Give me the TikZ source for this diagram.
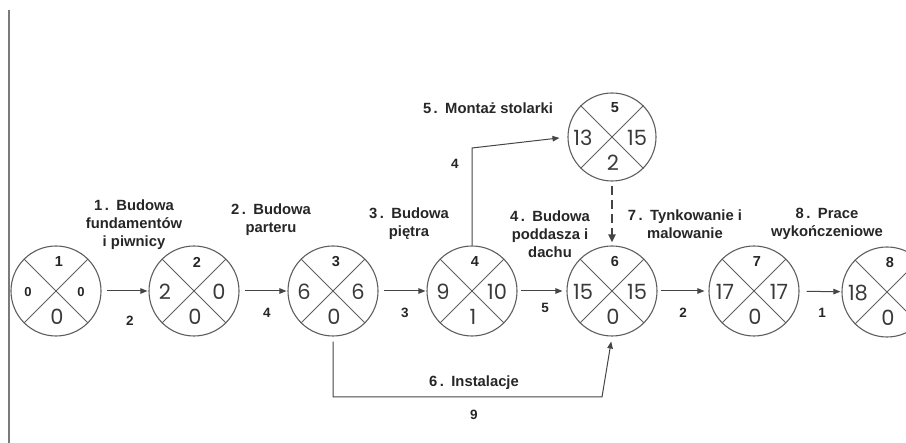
\documentclass[tikz,border=0pt]{standalone}
\usepackage{fontspec}
\setmainfont{Liberation Sans}
\newfontfamily\numfont{Poppins}
\usetikzlibrary{arrows.meta,calc}

\definecolor{ringgray}{HTML}{5E5E5E}
\definecolor{linegray}{HTML}{454545}
\definecolor{numgray}{HTML}{3A3A3A}
\definecolor{txt}{HTML}{262626}
\definecolor{framegray}{HTML}{7A7A7A}

\tikzset{
  event/.style={circle,draw=ringgray,line width=1.1pt,minimum size=90pt,inner sep=0pt},
  cross/.style={draw=ringgray,line width=1pt},
  bignum/.style={font=\numfont\fontsize{21}{21}\selectfont,text=numgray,inner sep=0pt},
  smallnum/.style={font=\bfseries\fontsize{13}{13}\selectfont,text=txt,inner sep=0pt},
  idnum/.style={font=\bfseries\fontsize{14.5}{14.5}\selectfont,text=txt,inner sep=0pt},
  task/.style={font=\bfseries\fontsize{14.8}{18}\selectfont,align=center,text=txt,inner sep=0pt},
  dur/.style={font=\bfseries\fontsize{13.5}{14}\selectfont,text=txt,inner sep=0pt},
  flow/.style={draw=linegray,line width=1pt,-{Triangle[length=7pt,width=5.5pt]}},
  dummy/.style={draw=linegray,line width=2pt,dash pattern=on 9pt off 5pt,
    -{Triangle[length=8pt,width=7pt]}},
}

% event circle: name, centre, number, earliest, latest, slack
\newcommand\netnode[7][]{%
  \node[event,#1] (#2) at (#3) {};
  \draw[cross] (#2.north west) -- (#2.south east) (#2.north east) -- (#2.south west);
  \node[idnum]  (#2-t) at ($(#2)+(3,-29)$)  {#4};
  \node[bignum] (#2-l) at ($(#2)+(-29,1)$)  {#5};
  \node[bignum] (#2-r) at ($(#2)+(25,1)$)   {#6};
  \node[bignum] (#2-b) at ($(#2)+(1,26)$)   {#7};
}

\begin{document}
\begin{tikzpicture}[x=1pt,y=-1pt]
  \useasboundingbox (0,0) rectangle (906,443);
  \clip (0,0) rectangle (906,443);

  % frame line on the left
  \draw[framegray,line width=1.2pt] (9,10) -- (9,443);

  % events
  \node[event] (n1) at (56,291) {};
  \draw[cross] (n1.north west) -- (n1.south east) (n1.north east) -- (n1.south west);
  \node[idnum]    (n1-t) at (59,262) {1};
  \node[smallnum] (n1-l) at (28,292) {0};
  \node[smallnum] (n1-r) at (81,292) {0};
  \node[bignum]   (n1-b) at (57,317) {0};

  \netnode{n2}{194,291}{2}{2}{0}{0}
  \netnode{n3}{333,291}{3}{6}{6}{0}
  \netnode{n4}{472,291}{4}{9}{10}{1}
  \netnode[minimum size=88pt]{n5}{612,137}{5}{13}{15}{2}
  \netnode{n6}{612,291}{6}{15}{15}{0}
  \netnode{n7}{754,291}{7}{17}{17}{0}
  \netnode{n8}{887,292}{8}{18}{}{0}

  % activities on the main chain
  \draw[flow,shorten <=5pt,shorten >=1pt] (n1) -- (n2);
  \draw[flow,shorten <=5pt,shorten >=1pt] (n2) -- (n3);
  \draw[flow,shorten <=5pt,shorten >=1pt] (n3) -- (n4);
  \draw[flow,shorten <=3pt,shorten >=4pt] (n4) -- (n6);
  \draw[flow,shorten <=3pt,shorten >=4pt] (n6) -- (n7);
  \draw[flow,shorten <=7pt,shorten >=1pt] (n7) -- (n8);

  % carpentry branch
  \coordinate (k45) at (472,148);
  \draw[flow,shorten >=8pt] (n4.north) -- (k45) -- (n5.west);
  % dummy activity
  \draw[dummy,shorten <=4pt,shorten >=3pt] (n5.south) -- (n6.north);
  % installations branch
  \coordinate (k36a) at (333,397);
  \coordinate (k36b) at (602,397);
  \draw[flow,shorten <=5pt,shorten >=5pt] (n3.south) -- (k36a) -- (k36b) -- (n6.south);

  % durations
  \node[dur] (d12) at (130,321) {2};
  \node[dur] (d23) at (267,313) {4};
  \node[dur] (d34) at (405,313) {3};
  \node[dur] (d46) at (545,308) {5};
  \node[dur] (d67) at (683,313) {2};
  \node[dur] (d78) at (822,313) {1};
  \node[dur] (d45) at (455,164) {4};
  \node[dur] (d36) at (474,415) {9};

  % activity names
  \node[task] (a1) at (134,225) {1\,.\enspace Budowa\\fundamentów\\i piwnicy};
  \node[task] (a2) at (271,220) {2\,.\enspace Budowa\\parteru};
  \node[task] (a3) at (409,224) {3\,.\enspace Budowa\\piętra};
  \node[task] (a4) at (550,234) {4\,.\enspace Budowa\\poddasza i\\dachu};
  \node[task] (a5) at (488,108) {5\,.\enspace Montaż stolarki};
  \node[task] (a6) at (474,383) {6\,.\enspace Instalacje};
  \node[task] (a7) at (685,224) {7\,.\enspace Tynkowanie i\\malowanie};
  \node[task] (a8) at (827,224) {8\,.\enspace Prace\\wykończeniowe};
\end{tikzpicture}
\end{document}
